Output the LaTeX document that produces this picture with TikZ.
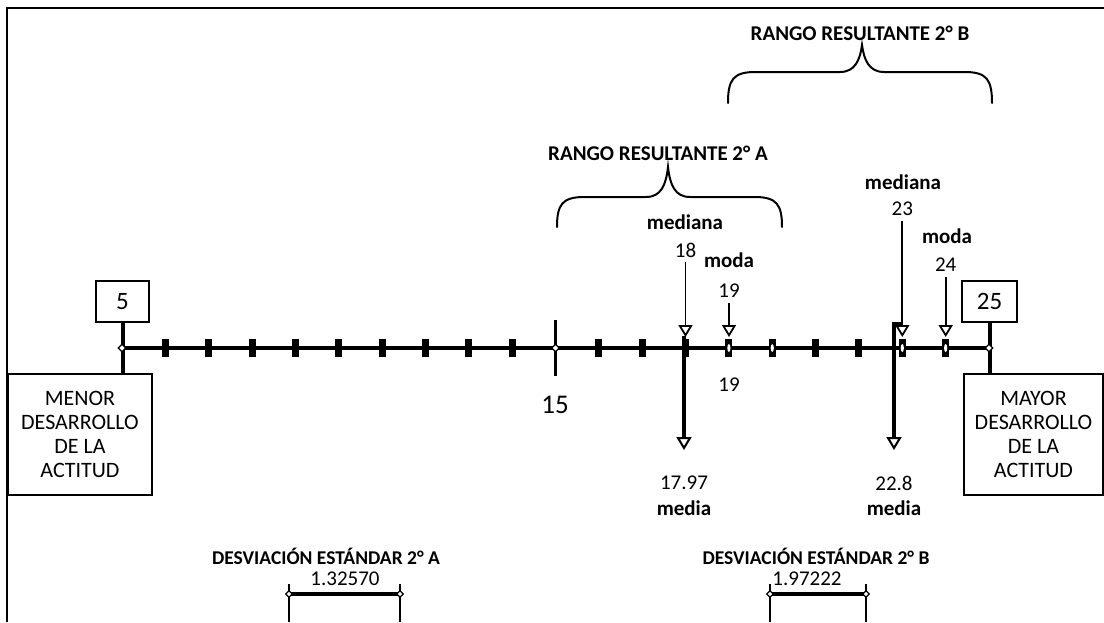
\documentclass[tikz,border=0pt]{standalone}
\usepackage{fontspec}
\setmainfont{Carlito}
\usetikzlibrary{arrows.meta,shapes.geometric}
\begin{document}
\begin{tikzpicture}[x=1pt,y=-1pt,
  lbl/.style={font=\fontsize{21}{24}\selectfont\bfseries, inner sep=0pt},
  desvlbl/.style={font=\fontsize{19.5}{22}\selectfont\bfseries, inner sep=0pt},
  num/.style={font=\fontsize{21}{24}\selectfont, inner sep=0pt},
  bignum/.style={font=\fontsize{27}{30}\selectfont, inner sep=0pt},
  endbox/.style={draw, line width=2pt, align=center, font=\fontsize{22}{24}\selectfont, inner sep=0pt},
  valbox/.style={draw, line width=2pt, font=\fontsize{25}{28}\selectfont, inner sep=0pt},
  junc/.style={diamond, draw, fill=white, line width=1.3pt, inner sep=0pt, minimum size=8pt},
  pinarrow/.style={line width=1.8pt, shorten <=5pt, -{Triangle[open,width=14pt,length=12pt,line width=1.8pt]}},
  meanarrow/.style={line width=3.5pt, -{Triangle[open,width=15pt,length=13pt,line width=2pt]}},
  tickmark/.style={fill=black},
  braceline/.style={line width=2pt, line cap=round},
  frameline/.style={line width=2.5pt}
]
\useasboundingbox (0,0) rectangle (1104,622);
% frame
\draw[frameline] (1104,8) -- (7,8) -- (7,622);

% axis coordinates
\coordinate (p5) at (122,348);
\coordinate (p25) at (989,348);
\draw[line width=4.5pt] (p5) -- (p25);

% ticks
\foreach \v in {6,...,14,16,17,18,19,20,21,22,23,24}{
  \pgfmathsetmacro{\xx}{122+(\v-5)*43.35}
  \fill[tickmark] (\xx-3.5,339) rectangle (\xx+3.5,357);
}
\foreach \v in {19,20,23,24}{
  \pgfmathsetmacro{\xx}{122+(\v-5)*43.35}
  \fill[white] (\xx,348) ellipse (1.6 and 4);
}
% 15 mark
\coordinate (p15) at (555.5,348);
\draw[line width=3pt] (555.5,320) -- (555.5,376);
\node[junc] at (p15) {};
\node[bignum] (n15) at (555,405) {15};

% end boxes
\node[valbox, minimum width=53pt, minimum height=41pt] (b5) at (122.5,301.5) {5};
\node[valbox, minimum width=55pt, minimum height=41pt] (b25) at (989.5,301.5) {25};
\node[endbox, minimum width=144pt, minimum height=121pt] (menor) at (80,434.5) {MENOR\\DESARROLLO\\DE LA\\ACTITUD};
\node[endbox, minimum width=139pt, minimum height=121pt] (mayor) at (1033.5,434.5) {MAYOR\\DESARROLLO\\DE LA\\ACTITUD};
\draw[line width=4pt] (b5.south) -- (b5.south |- menor.north);
\draw[line width=4pt] (b25.south) -- (b25.south |- mayor.north);
\node[junc] at (p5) {};
\node[junc] at (p25) {};

% braces and range labels
\node[lbl] (rangoB) at (860,33) {RANGO RESULTANTE 2° B};
\draw[braceline] (728,103) .. controls (728,80) and (733,72) .. (755,72) -- (840,72)
  .. controls (855,72) and (860,60) .. (862,45)
  .. controls (864,60) and (869,72) .. (884,72) -- (965,72)
  .. controls (987,72) and (992,80) .. (992,103);
\node[lbl] (rangoA) at (658,153) {RANGO RESULTANTE 2° A};
\draw[braceline] (557,227) .. controls (557,205) and (562,197) .. (584,197) -- (646,197)
  .. controls (661,197) and (666,185) .. (668,167)
  .. controls (670,185) and (675,197) .. (690,197) -- (755,197)
  .. controls (777,197) and (782,205) .. (782,227);

% median / mode 2A
\node[lbl] (medA) at (685,222) {mediana};
\node[num] (n18) at (685.5,250) {18};
\coordinate (t18) at (685.5,337);
\draw[pinarrow] (n18.south) -- (t18);
\node[lbl] (modaA) at (729,260) {moda};
\node[num] (n19a) at (729,291) {19};
\coordinate (t19) at (729,337);
\draw[pinarrow] (n19a.south) -- (t19);
\node[num] (n19b) at (729,385) {19};

% median / mode 2B
\node[lbl] (medB) at (903,182) {mediana};
\node[num] (n23) at (902.3,209) {23};
\coordinate (t23) at (902.3,337);
\draw[pinarrow] (n23.south) -- (t23);
\node[lbl] (modaB) at (947,236) {moda};
\node[num] (n24) at (945.7,265) {24};
\coordinate (t24) at (945.7,337);
\draw[pinarrow] (n24.south) -- (t24);

% means
\coordinate (m1top) at (684,336);
\coordinate (m1end) at (684,450);
\draw[meanarrow] (m1top) -- (m1end);
\node[num] (m1797) at (684,483) {17.97};
\node[lbl] (mediaA) at (684,508) {media};
\coordinate (m2hook) at (901,324);
\coordinate (m2top) at (894,324);
\coordinate (m2end) at (894,450);
\draw[meanarrow] (m2hook) -- (m2top) -- (m2end);
\node[num] (m228) at (894,483) {22.8};
\node[lbl] (mediaB) at (894,508) {media};

% standard deviations
\node[desvlbl] (desvA) at (326,556) {DESVIACIÓN ESTÁNDAR 2° A};
\node[num] (sdA) at (345,579) {1.32570};
\coordinate (sdA1) at (289,594);
\coordinate (sdA2) at (400,594);
\draw[line width=4pt] (sdA1) -- (sdA2);
\draw[line width=2.5pt] (289,584) -- (289,622);
\draw[line width=2.5pt] (400,584) -- (400,622);
\node[junc, minimum size=7pt] at (sdA1) {};
\node[junc, minimum size=7pt] at (sdA2) {};

\node[desvlbl] (desvB) at (816,556) {DESVIACIÓN ESTÁNDAR 2° B};
\node[num] (sdB) at (807,579) {1.97222};
\coordinate (sdB1) at (770,594);
\coordinate (sdB2) at (866,594);
\draw[line width=4pt] (sdB1) -- (sdB2);
\draw[line width=2.5pt] (770,584) -- (770,622);
\draw[line width=2.5pt] (866,584) -- (866,622);
\node[junc, minimum size=7pt] at (sdB1) {};
\node[junc, minimum size=7pt] at (sdB2) {};
\end{tikzpicture}
\end{document}
